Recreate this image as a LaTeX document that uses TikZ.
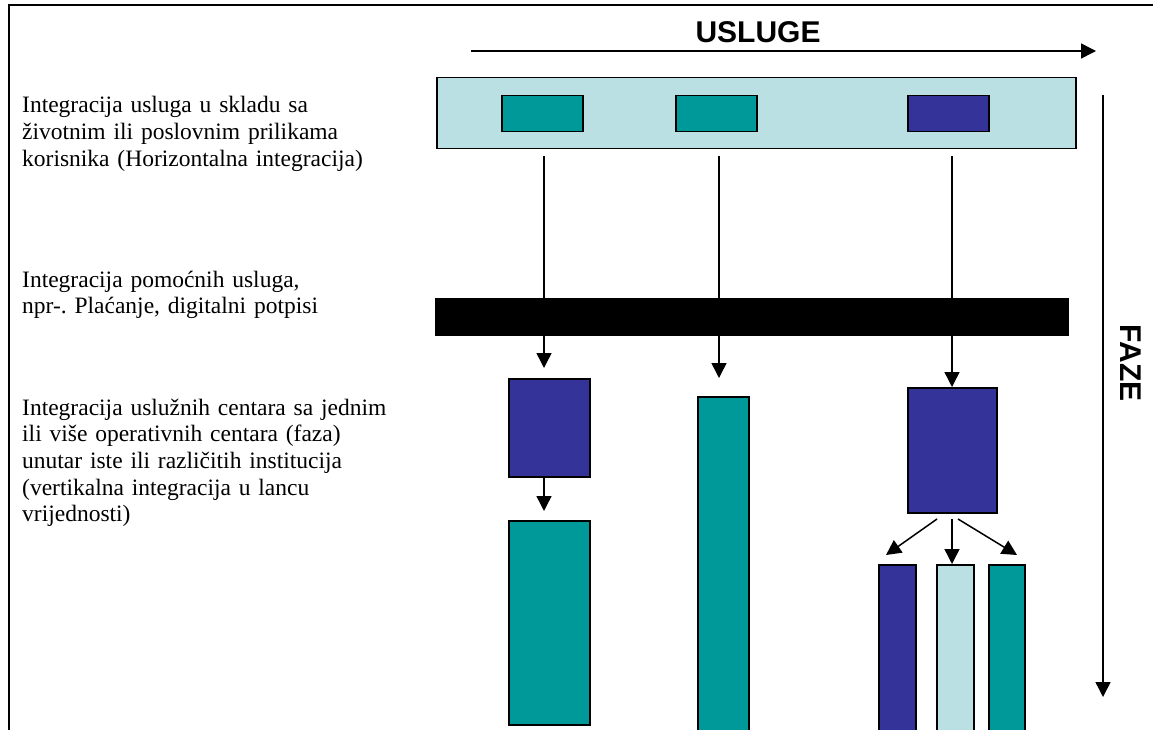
\documentclass[tikz,border=0pt]{standalone}
\usepackage{fontspec}
\setmainfont{Liberation Serif}
\newfontfamily\arialf{Liberation Sans}
\usetikzlibrary{arrows.meta}
\definecolor{lblue}{HTML}{BBE0E3}
\definecolor{teal}{HTML}{009999}
\definecolor{navy}{HTML}{333399}
\frenchspacing
\tikzset{
  box/.style={draw=black, line width=1.5pt, inner sep=0pt, anchor=north west},
  arr/.style={line width=1.5pt, -{Triangle[length=15pt,width=15pt]}},
  lefttext/.style={anchor=base west, inner sep=0pt, align=left, text width=420pt,
    font=\fontsize{23.5}{26.7}\selectfont},
  title/.style={inner sep=0pt, font=\arialf\bfseries\fontsize{30}{30}\selectfont}
}
\begin{document}
\begin{tikzpicture}[x=1pt,y=-1pt]
\useasboundingbox (0,0) rectangle (1153,730);
\clip (0,0) rectangle (1153,730);
\fill[white] (0,0) rectangle (1153,730);
% frame
\draw[line width=2pt] (9,735) -- (9,5) -- (1160,5);
% left texts
\node[lefttext] (t1) at (22,113) {Integracija usluga u skladu sa\\životnim ili poslovnim prilikama\\korisnika (Horizontalna integracija)};
\node[lefttext] (t2) at (22,287) {Integracija pomoćnih usluga,\\npr-. Plaćanje, digitalni potpisi};
\node[lefttext] (t3) at (22,415) {Integracija uslužnih centara sa jednim\\ili više operativnih centara (faza)\\unutar iste ili različitih institucija\\(vertikalna integracija u lancu\\vrijednosti)};
% USLUGE axis
\node[title] (usl) at (758,32) {USLUGE};
\coordinate (ux0) at (471,51);
\coordinate (ux1) at (1096,51);
\draw[arr] (ux0) -- (ux1);
% FAZE axis
\node[title, rotate=-90] (faz) at (1131,363) {FAZE};
\coordinate (fy0) at (1103,95);
\coordinate (fy1) at (1103,697);
\draw[arr] (fy0) -- (fy1);
% top band
\node[box, fill=lblue, minimum width=639pt, minimum height=71pt] (band) at (436,77) {};
\node[box, fill=teal, minimum width=81pt, minimum height=36pt] (s1) at (501,95) {};
\node[box, fill=teal, minimum width=81pt, minimum height=36pt] (s2) at (675,95) {};
\node[box, fill=navy, minimum width=81pt, minimum height=36pt] (s3) at (907,95) {};
% lower boxes
\node[box, fill=navy, minimum width=81pt, minimum height=98pt] (b1) at (508,378) {};
\node[box, fill=teal, minimum width=81pt, minimum height=204pt] (c1) at (508,520) {};
\node[box, fill=teal, minimum width=51pt, minimum height=345pt] (b2) at (697,396) {};
\node[box, fill=navy, minimum width=89pt, minimum height=125pt] (b3) at (907,387) {};
\node[box, fill=navy, minimum width=37pt, minimum height=180pt] (d1) at (878,564) {};
\node[box, fill=lblue, minimum width=37pt, minimum height=180pt] (d2) at (936,564) {};
\node[box, fill=teal, minimum width=36pt, minimum height=180pt] (d3) at (988,564) {};
% vertical arrows through the bar
\coordinate (a1) at (544,156);
\coordinate (a2) at (719,156);
\coordinate (a3) at (952,156);
\draw[arr, shorten >=10pt] (a1) -- (a1 |- b1.north);
\draw[arr, shorten >=18pt] (a2) -- (a2 |- b2.north);
\draw[arr] (a3) -- (a3 |- b3.north);
% black bar
\node[box, draw=black, fill=black, line width=0.5pt, minimum width=633pt, minimum height=37pt] (bar) at (435,298) {};
% arrow b1 -> c1
\draw[arr, shorten >=9pt] (a1 |- b1.south) -- (a1 |- c1.north);
% branching arrows
\coordinate (r1) at (937,519);
\coordinate (r2) at (952,519);
\coordinate (r3) at (958,519);
\coordinate (e1) at (886,555);
\coordinate (e3) at (1017,555);
\draw[arr] (r1) -- (e1);
\draw[arr] (r2) -- (r2 |- d2.north);
\draw[arr] (r3) -- (e3);
\end{tikzpicture}
\end{document}
